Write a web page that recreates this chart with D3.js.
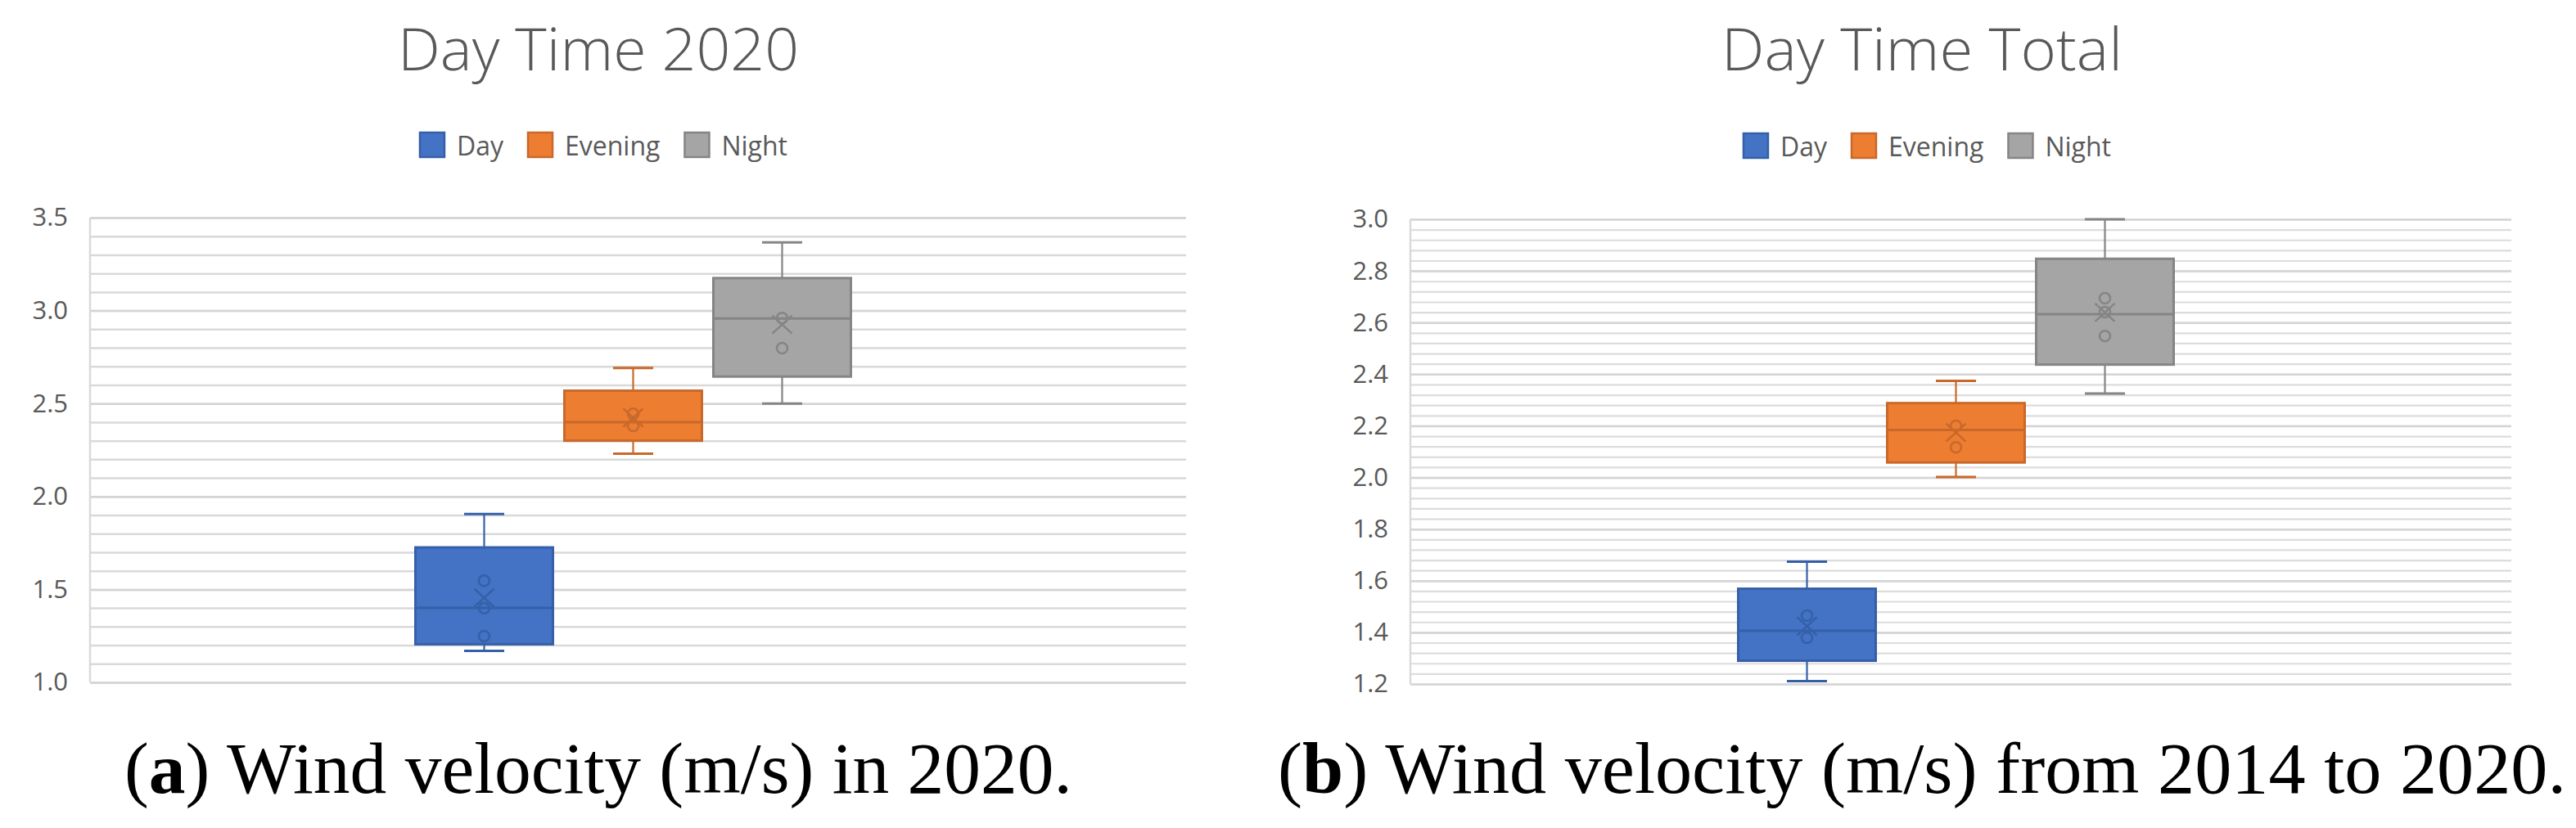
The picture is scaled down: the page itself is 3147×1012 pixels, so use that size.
<!DOCTYPE html>
<html>
<head>
<meta charset="utf-8">
<script src="https://cdn.jsdelivr.net/npm/d3@7"></script>
<style>
    body { margin: 0; background: #fff; }
    svg { display: block; }
</style>
</head>
<body>
<div id="chart"></div>
<script>

    var series = ["Day", "Evening", "Night"];
    var fillColors = ["#4472C4", "#ED7D31", "#A5A5A5"];
    var lineColors = ["#3560A8", "#C8692B", "#858585"];

    // panel (a): 2020
    var ticks2020 = [1.0, 1.5, 2.0, 2.5, 3.0, 3.5];
    var min2020 = [1.17, 2.23, 2.50];
    var q1_2020 = [1.205, 2.30, 2.645];
    var median2020 = [1.40, 2.40, 2.957];
    var q3_2020 = [1.726, 2.569, 3.175];
    var max2020 = [1.906, 2.691, 3.367];
    var mean2020 = [1.455, 2.424, 2.925];
    var points2020 = [[1.547, 1.399, 1.249], [2.445, 2.38], [2.96, 2.798]];

    // panel (b): 2014-2020
    var ticksTotal = [1.2, 1.4, 1.6, 1.8, 2.0, 2.2, 2.4, 2.6, 2.8, 3.0];
    var minTotal = [1.211, 2.002, 2.325];
    var q1Total = [1.290, 2.058, 2.437];
    var medianTotal = [1.406, 2.184, 2.632];
    var q3Total = [1.569, 2.288, 2.847];
    var maxTotal = [1.674, 2.374, 3.0];
    var meanTotal = [1.424, 2.174, 2.639];
    var pointsTotal = [[1.465, 1.379], [2.20, 2.117], [2.694, 2.64, 2.548]];

    var svgWidth = 3147;
    var svgHeight = 1012;

    var svg = d3.select("#chart")
        .append("svg")
        .attr("width", svgWidth)
        .attr("height", svgHeight);

    var uiFont = "'Open Sans', 'Noto Sans', sans-serif";
    var textColor = "#595959";

    function drawPanel(p) {
        var g = svg.append("g");

        var yScale = d3.scaleLinear()
            .domain([p.ticks[0], p.ticks[p.ticks.length - 1]])
            .range([p.bottom, p.top]);

        var plotWidth = p.right - p.left;

        // minor gridlines
        var minor = d3.range(p.ticks[0], p.ticks[p.ticks.length - 1] + 1e-6, p.minorStep);
        g.append("g")
            .attr("transform", `translate(${p.left}, 0)`)
            .call(d3.axisLeft(yScale).tickValues(minor).tickSize(-plotWidth).tickFormat(""))
            .call(a => a.select(".domain").remove())
            .selectAll("line")
            .attr("stroke", p.minorColor)
            .attr("stroke-width", p.minorWidth);

        // major gridlines
        g.append("g")
            .attr("transform", `translate(${p.left}, 0)`)
            .call(d3.axisLeft(yScale).tickValues(p.ticks).tickSize(-plotWidth).tickFormat(""))
            .call(a => a.select(".domain").remove())
            .selectAll("line")
            .attr("stroke", "#d4d4d4")
            .attr("stroke-width", 2.5);

        // vertical axis line
        g.append("line")
            .attr("x1", p.left).attr("x2", p.left)
            .attr("y1", p.top).attr("y2", p.bottom)
            .attr("stroke", "#d9d9d9")
            .attr("stroke-width", 2.4);

        // tick labels
        g.append("g")
            .attr("transform", `translate(${p.left}, 0)`)
            .call(d3.axisLeft(yScale).tickValues(p.ticks).tickSize(0).tickPadding(27).tickFormat(d3.format(".1f")))
            .call(a => a.select(".domain").remove())
            .selectAll("text")
            .attr("font-family", uiFont)
            .attr("font-size", "31px")
            .attr("fill", textColor);

        var cx = (p.left + p.right) / 2 - 6;
        var xScale = d3.scaleBand()
            .domain(series)
            .range([cx - 266, cx + 266])
            .paddingInner(0.077)
            .paddingOuter(0);

        var bw = xScale.bandwidth();
        var capW = 49;

        var boxData = series.map(function (s, i) {
            return {
                name: s, fill: fillColors[i], line: lineColors[i],
                min: p.min[i], q1: p.q1[i], median: p.median[i],
                q3: p.q3[i], max: p.max[i], mean: p.mean[i], points: p.points[i]
            };
        });

        var boxes = g.selectAll(".box")
            .data(boxData)
            .enter()
            .append("g")
            .attr("class", "box")
            .attr("transform", d => `translate(${xScale(d.name)}, 0)`);

        // whiskers
        boxes.append("line")
            .attr("x1", bw / 2).attr("x2", bw / 2)
            .attr("y1", d => yScale(d.max)).attr("y2", d => yScale(d.q3))
            .attr("stroke", d => d.line).attr("stroke-width", 2.2);
        boxes.append("line")
            .attr("x1", bw / 2).attr("x2", bw / 2)
            .attr("y1", d => yScale(d.q1)).attr("y2", d => yScale(d.min))
            .attr("stroke", d => d.line).attr("stroke-width", 2.2);
        boxes.append("line")
            .attr("x1", bw / 2 - capW / 2).attr("x2", bw / 2 + capW / 2)
            .attr("y1", d => yScale(d.max)).attr("y2", d => yScale(d.max))
            .attr("stroke", d => d.line).attr("stroke-width", 3);
        boxes.append("line")
            .attr("x1", bw / 2 - capW / 2).attr("x2", bw / 2 + capW / 2)
            .attr("y1", d => yScale(d.min)).attr("y2", d => yScale(d.min))
            .attr("stroke", d => d.line).attr("stroke-width", 3);

        // box
        boxes.append("rect")
            .attr("x", 0)
            .attr("y", d => yScale(d.q3))
            .attr("width", bw)
            .attr("height", d => yScale(d.q1) - yScale(d.q3))
            .attr("fill", d => d.fill)
            .attr("stroke", d => d.line)
            .attr("stroke-width", 3);

        // median
        boxes.append("line")
            .attr("x1", 0).attr("x2", bw)
            .attr("y1", d => yScale(d.median)).attr("y2", d => yScale(d.median))
            .attr("stroke", d => d.line).attr("stroke-width", 3);

        // inner points
        boxes.selectAll(".pt")
            .data(d => d.points.map(v => ({ v: v, line: d.line })))
            .enter()
            .append("circle")
            .attr("class", "pt")
            .attr("cx", bw / 2)
            .attr("cy", d => yScale(d.v))
            .attr("r", 6.5)
            .attr("fill", "none")
            .attr("stroke", d => d.line)
            .attr("stroke-width", 2.5);

        // mean marker
        boxes.append("path")
            .attr("transform", d => `translate(${bw / 2}, ${yScale(d.mean)})`)
            .attr("d", "M-12,-11L12,11M-12,11L12,-11")
            .attr("fill", "none")
            .attr("stroke", d => d.line)
            .attr("stroke-width", 2.5);

        // title
        g.append("text")
            .attr("x", p.center)
            .attr("y", 86)
            .attr("text-anchor", "middle")
            .attr("font-family", uiFont)
            .attr("font-weight", 300)
            .attr("font-size", "72px")
            .attr("fill", textColor)
            .attr("textLength", p.titleWidth)
            .attr("lengthAdjust", "spacingAndGlyphs")
            .text(p.title);

        // legend
        var legend = g.append("g");
        var lx = 0;
        series.forEach(function (s, i) {
            var item = legend.append("g").attr("transform", `translate(${lx}, 0)`);
            item.append("rect")
                .attr("x", 1).attr("y", p.legendY + 1)
                .attr("width", 30).attr("height", 30)
                .attr("fill", fillColors[i])
                .attr("stroke", lineColors[i])
                .attr("stroke-width", 2.5);
            var t = item.append("text")
                .attr("x", 46)
                .attr("y", p.legendY + 29)
                .attr("font-family", uiFont)
                .attr("font-size", "32px")
                .attr("fill", textColor)
                .text(s);
            lx += 46 + t.node().getComputedTextLength() + 29;
        });
        lx -= 29;
        legend.attr("transform", `translate(${p.center + 6 - lx / 2}, 0)`);

        // caption
        var cap = g.append("text")
            .attr("x", p.center)
            .attr("y", 969)
            .attr("text-anchor", "middle")
            .attr("font-family", "'Liberation Serif', 'DejaVu Serif', serif")
            .attr("font-size", "88px")
            .attr("fill", "#000")
            .attr("textLength", p.captionWidth)
            .attr("lengthAdjust", "spacingAndGlyphs");
        cap.append("tspan").text("(");
        cap.append("tspan").attr("font-weight", "bold").text(p.tag);
        cap.append("tspan").text(") " + p.caption);
    }

    drawPanel({
        title: "Day Time 2020", titleWidth: 490,
        tag: "a", caption: "Wind velocity (m/s) in 2020.", captionWidth: 1158,
        center: 731, legendY: 161,
        left: 110, right: 1449, top: 266, bottom: 834,
        ticks: ticks2020, minorStep: 0.1, minorColor: "#d9d9d9", minorWidth: 2.5,
        min: min2020, q1: q1_2020, median: median2020, q3: q3_2020,
        max: max2020, mean: mean2020, points: points2020
    });

    drawPanel({
        title: "Day Time Total", titleWidth: 490,
        tag: "b", caption: "Wind velocity (m/s) from 2014 to 2020.", captionWidth: 1574,
        center: 2348, legendY: 162,
        left: 1723, right: 3068, top: 268, bottom: 836,
        ticks: ticksTotal, minorStep: 0.04, minorColor: "#dcdcdc", minorWidth: 2.2,
        min: minTotal, q1: q1Total, median: medianTotal, q3: q3Total,
        max: maxTotal, mean: meanTotal, points: pointsTotal
    });

</script>
</body>
</html>
